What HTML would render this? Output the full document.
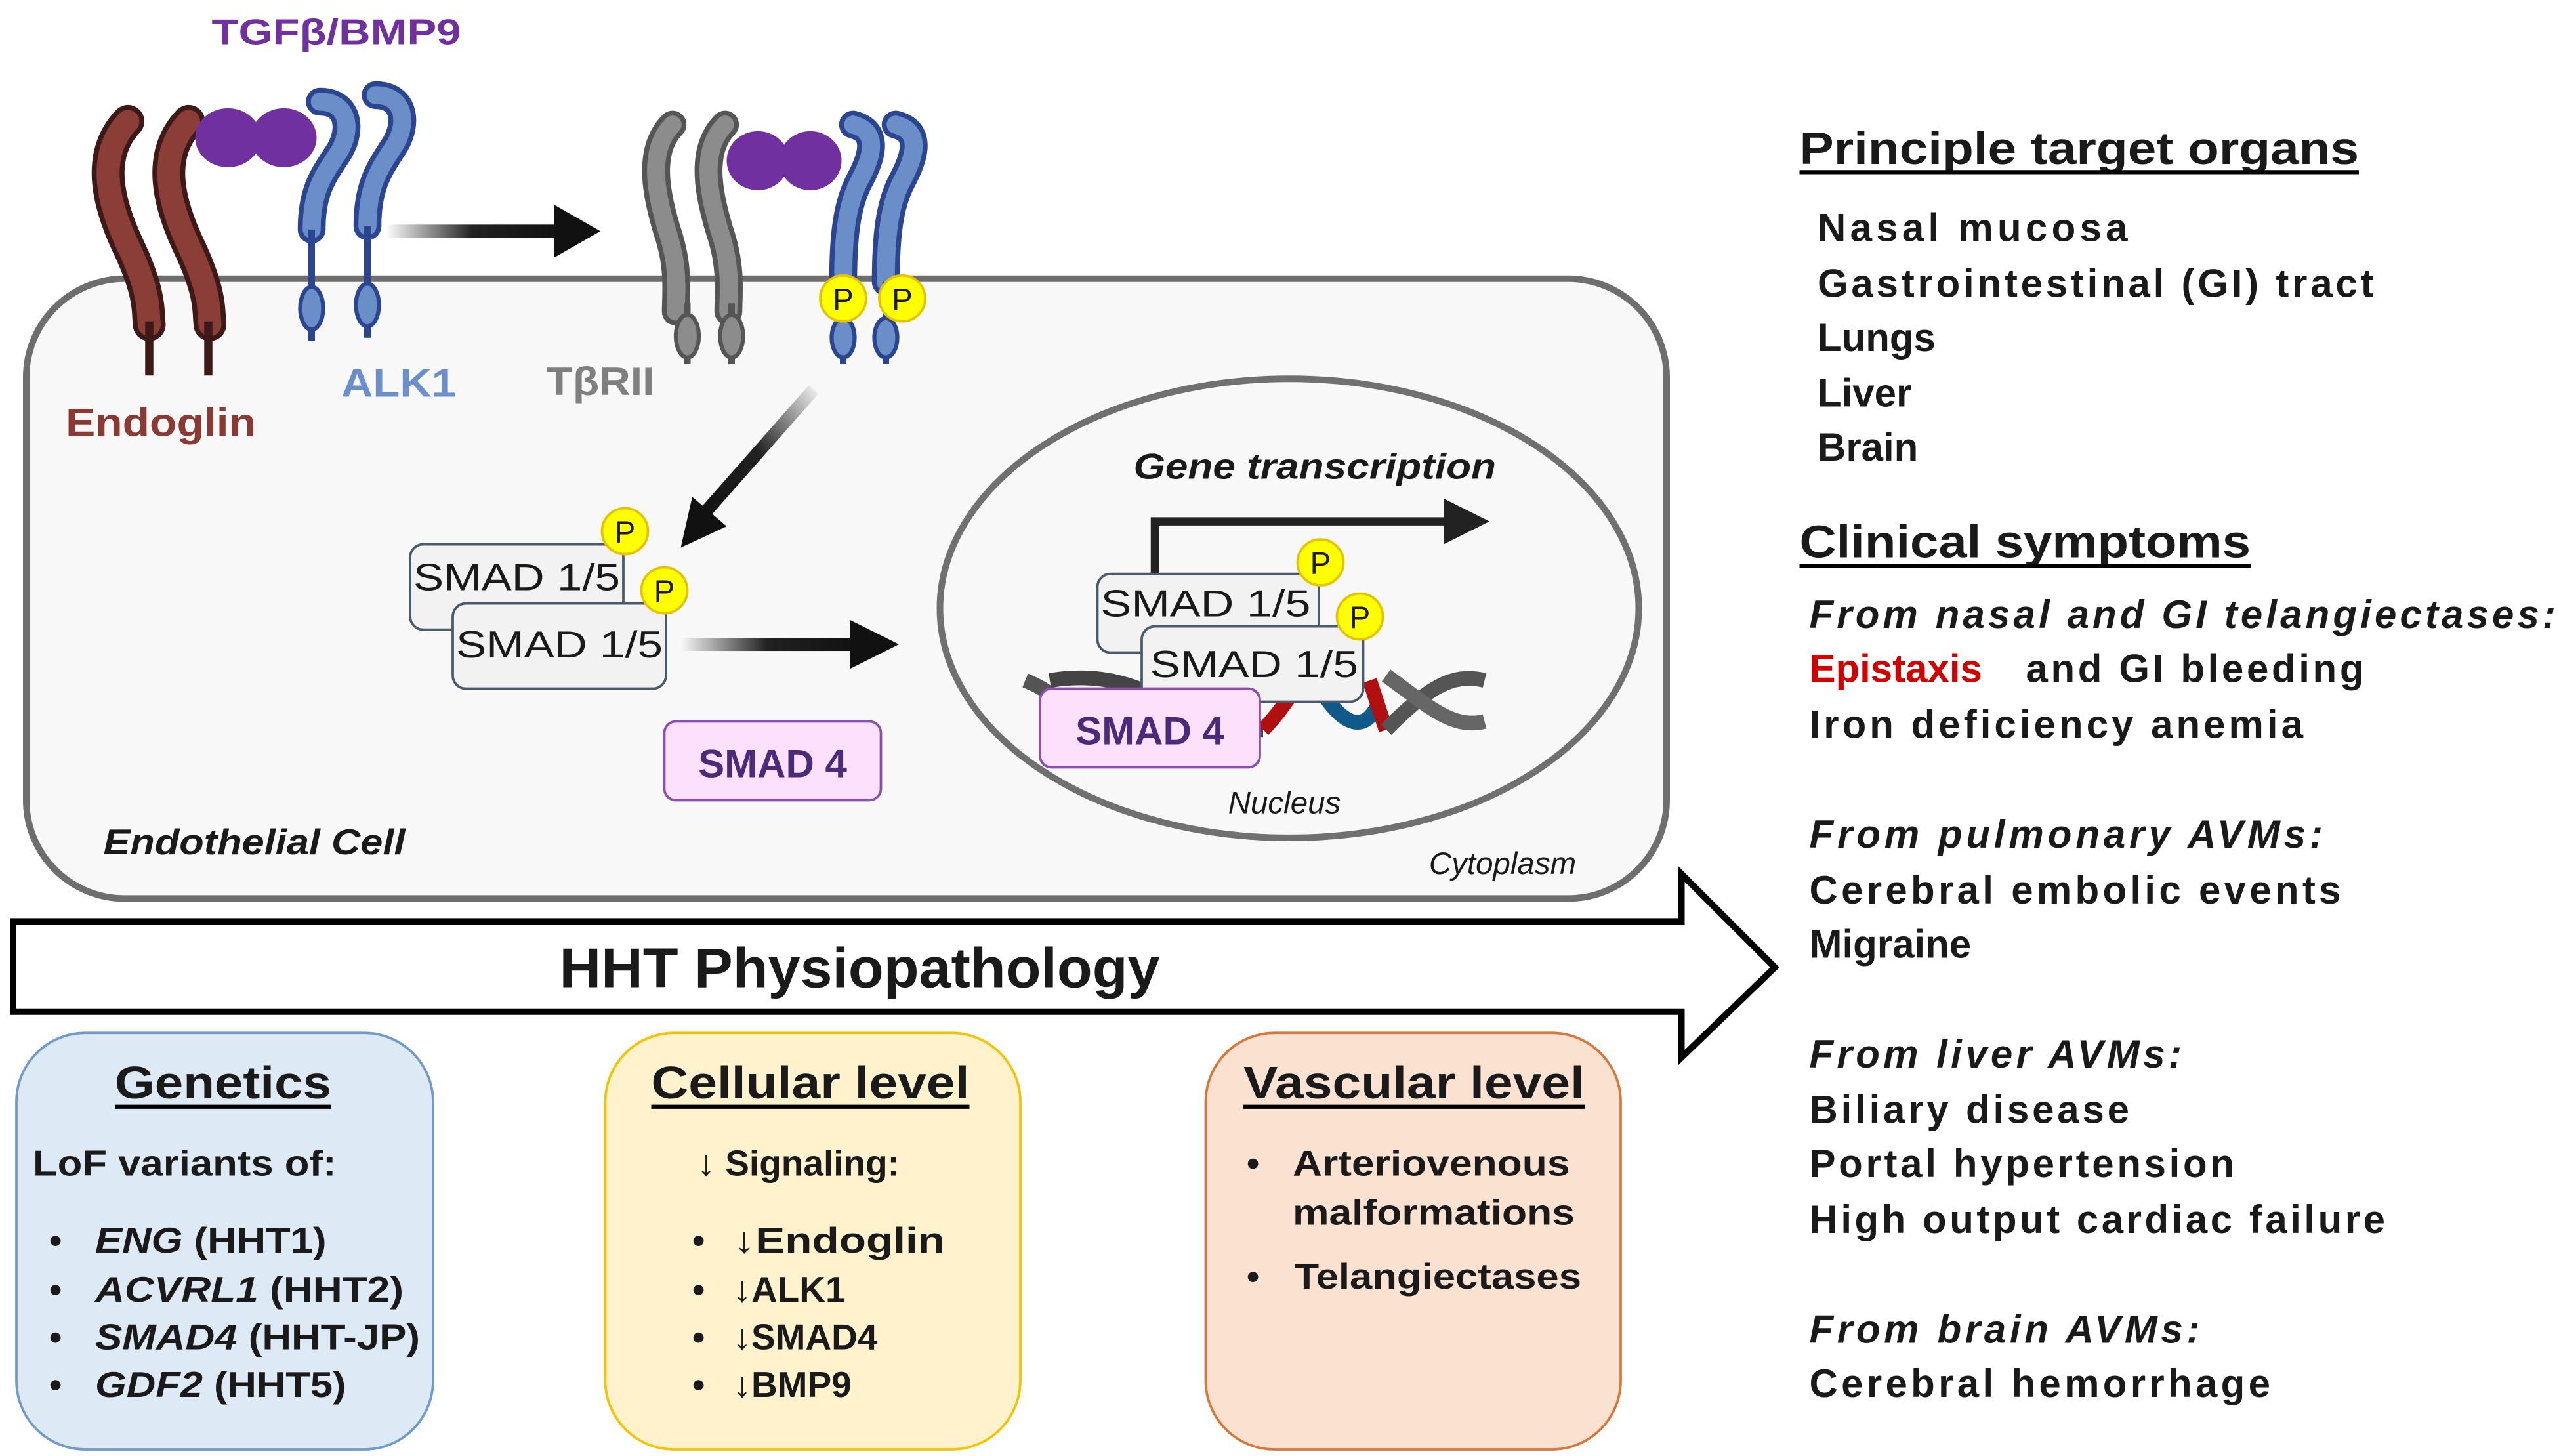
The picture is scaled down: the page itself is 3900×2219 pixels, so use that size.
<!DOCTYPE html>
<html><head><meta charset="utf-8"><style>
html,body{margin:0;padding:0;background:#fff;}
svg{display:block;}
text{font-family:"Liberation Sans",Arial,sans-serif;fill:#1a1a1a;}
</style></head><body>
<svg width="3900" height="2219" viewBox="0 0 1560 888" preserveAspectRatio="none" xmlns="http://www.w3.org/2000/svg">
<defs>
<linearGradient id="ga" x1="0" x2="1" y1="0" y2="0"><stop offset="0" stop-color="#222" stop-opacity="0"/><stop offset="0.5" stop-color="#222"/><stop offset="1" stop-color="#111"/></linearGradient>
<linearGradient id="gd" x1="1" x2="0" y1="0" y2="1"><stop offset="0" stop-color="#222" stop-opacity="0"/><stop offset="0.5" stop-color="#222"/><stop offset="1" stop-color="#111"/></linearGradient>
</defs>

<rect x="16" y="170" width="1000" height="378" rx="60" fill="#f8f8f8" stroke="#6e6e6e" stroke-width="4"/>

<g stroke-linecap="round" fill="none">
 <path d="M78,74 C58,95 66,125 79,152 C92,180 90,190 91,198" stroke="#3d1a17" stroke-width="20"/>
 <path d="M78,74 C58,95 66,125 79,152 C92,180 90,190 91,198" stroke="#8b3e38" stroke-width="14"/>
 <path d="M115,74 C95,95 103,125 116,152 C129,180 127,190 128,198" stroke="#3d1a17" stroke-width="20"/>
 <path d="M115,74 C95,95 103,125 116,152 C129,180 127,190 128,198" stroke="#8b3e38" stroke-width="14"/>
</g>
<line x1="91" y1="196" x2="91" y2="229" stroke="#3d1a17" stroke-width="5"/>
<line x1="127" y1="196" x2="127" y2="229" stroke="#3d1a17" stroke-width="5"/>
<ellipse cx="139" cy="84" rx="20" ry="18" fill="#7030a0"/>
<ellipse cx="173" cy="84" rx="20" ry="18" fill="#7030a0"/>
<g stroke-linecap="round" fill="none">
 <path d="M195,62 C212,62 215,78 207,92 C198,106 190,115 190,140" stroke="#2b4590" stroke-width="17"/>
 <path d="M195,62 C212,62 215,78 207,92 C198,106 190,115 190,140" stroke="#6a8fc8" stroke-width="11"/>
 <path d="M229,58 C246,58 249,74 241,88 C232,102 224,112 224,138" stroke="#2b4590" stroke-width="17"/>
 <path d="M229,58 C246,58 249,74 241,88 C232,102 224,112 224,138" stroke="#6a8fc8" stroke-width="11"/>
</g>
<line x1="190" y1="140" x2="190" y2="208" stroke="#2b4590" stroke-width="4"/>
<line x1="224" y1="138" x2="224" y2="206" stroke="#2b4590" stroke-width="4"/>
<ellipse cx="190" cy="188" rx="7" ry="13" fill="#6a8fc8" stroke="#2b4590" stroke-width="2.5"/>
<ellipse cx="224" cy="186" rx="7" ry="13" fill="#6a8fc8" stroke="#2b4590" stroke-width="2.5"/>

<rect x="235" y="137" width="106" height="8" fill="url(#ga)"/>
<polygon points="338,125 366,141 338,157" fill="#111"/>

<g stroke-linecap="round" fill="none">
 <path d="M410,76 C394,92 400,120 408,145 C414,165 412,180 412,190" stroke="#555" stroke-width="17"/>
 <path d="M410,76 C394,92 400,120 408,145 C414,165 412,180 412,190" stroke="#8c8c8c" stroke-width="11"/>
 <path d="M442,76 C426,92 432,120 440,145 C446,165 444,180 444,190" stroke="#555" stroke-width="17"/>
 <path d="M442,76 C426,92 432,120 440,145 C446,165 444,180 444,190" stroke="#8c8c8c" stroke-width="11"/>
 <path d="M520,76 C536,80 532,95 524,110 C516,125 514,145 514,172" stroke="#2b4590" stroke-width="17"/>
 <path d="M520,76 C536,80 532,95 524,110 C516,125 514,145 514,172" stroke="#6a8fc8" stroke-width="11"/>
 <path d="M546,76 C562,80 558,95 550,110 C542,125 540,145 540,172" stroke="#2b4590" stroke-width="17"/>
 <path d="M546,76 C562,80 558,95 550,110 C542,125 540,145 540,172" stroke="#6a8fc8" stroke-width="11"/>
</g>
<line x1="419" y1="185" x2="419" y2="222" stroke="#555" stroke-width="4"/>
<line x1="446" y1="185" x2="446" y2="222" stroke="#555" stroke-width="4"/>
<ellipse cx="419" cy="205" rx="7" ry="13" fill="#8c8c8c" stroke="#555" stroke-width="2.5"/>
<ellipse cx="446" cy="205" rx="7" ry="13" fill="#8c8c8c" stroke="#555" stroke-width="2.5"/>
<line x1="514" y1="172" x2="514" y2="222" stroke="#2b4590" stroke-width="4"/>
<line x1="540" y1="172" x2="540" y2="222" stroke="#2b4590" stroke-width="4"/>
<ellipse cx="514" cy="206" rx="7" ry="12" fill="#6a8fc8" stroke="#2b4590" stroke-width="2.5"/>
<ellipse cx="540" cy="206" rx="7" ry="12" fill="#6a8fc8" stroke="#2b4590" stroke-width="2.5"/>
<ellipse cx="462" cy="98" rx="19" ry="18" fill="#7030a0"/>
<ellipse cx="494" cy="98" rx="19" ry="18" fill="#7030a0"/>
<g font-size="19">
<circle cx="514" cy="182" r="14" fill="#ffff00" stroke="#e6c200" stroke-width="1.5"/><text x="514" y="189" text-anchor="middle">P</text>
<circle cx="550" cy="182" r="14" fill="#ffff00" stroke="#e6c200" stroke-width="1.5"/><text x="550" y="189" text-anchor="middle">P</text>
</g>

<text x="129" y="27" font-size="22" font-weight="bold" textLength="152" lengthAdjust="spacingAndGlyphs" style="fill:#7030a0">TGFβ/BMP9</text>
<text x="40" y="266" font-size="24" font-weight="bold" textLength="116" lengthAdjust="spacingAndGlyphs" style="fill:#8b3a33">Endoglin</text>
<text x="208" y="242" font-size="24" font-weight="bold" textLength="70" lengthAdjust="spacingAndGlyphs" style="fill:#6b8fcc">ALK1</text>
<text x="333" y="241" font-size="24" font-weight="bold" textLength="66" lengthAdjust="spacingAndGlyphs" style="fill:#7f7f7f">TβRII</text>

<polygon points="493,235 499,240 432,316 426,311" fill="url(#gd)"/>
<polygon points="415,334 422,303 443,321" fill="#111"/>

<rect x="250" y="332" width="130" height="52" rx="8" fill="#f2f2f2" stroke="#4a5a6a" stroke-width="1.5"/>
<text x="252" y="360" font-size="23" textLength="126" lengthAdjust="spacingAndGlyphs">SMAD 1/5</text>
<rect x="276" y="368" width="130" height="52" rx="8" fill="#f2f2f2" stroke="#4a5a6a" stroke-width="1.5"/>
<text x="278" y="401" font-size="23" textLength="126" lengthAdjust="spacingAndGlyphs">SMAD 1/5</text>
<g font-size="19">
<circle cx="381" cy="324" r="14" fill="#ffff00" stroke="#e6c200" stroke-width="1.5"/><text x="381" y="331" text-anchor="middle">P</text>
<circle cx="405" cy="360" r="14" fill="#ffff00" stroke="#e6c200" stroke-width="1.5"/><text x="405" y="367" text-anchor="middle">P</text>
</g>
<rect x="415" y="389" width="105" height="8" fill="url(#ga)"/>
<polygon points="518,378 548,393 518,408" fill="#111"/>
<rect x="405" y="440" width="132" height="48" rx="7" fill="#fde0fb" stroke="#8a4fb5" stroke-width="1.5"/>
<text x="471" y="474" font-size="24" font-weight="bold" text-anchor="middle" style="fill:#4b2a7a">SMAD 4</text>

<ellipse cx="786" cy="371" rx="213" ry="140" fill="#f8f8f8" stroke="#707070" stroke-width="4"/>
<text x="691" y="292" font-size="22" font-weight="bold" font-style="italic" textLength="221" lengthAdjust="spacingAndGlyphs">Gene transcription</text>
<path d="M704,352 L704,318 L882,318" stroke="#222" stroke-width="5" fill="none"/>
<polygon points="880,304 908,318 880,332" fill="#222"/>
<g fill="none" stroke-width="9">
 <path d="M625,415 C650,425 655,440 640,445" stroke="#555"/>
 <path d="M640,415 C700,405 720,445 770,445" stroke="#444"/>
 <path d="M770,445 C785,430 790,415 800,412" stroke="#b01010"/>
 <path d="M800,412 C815,440 830,450 840,430" stroke="#0f5a8a"/>
 <path d="M835,415 C840,430 843,440 845,445" stroke="#b01010"/>
 <path d="M845,445 C870,420 885,410 905,415" stroke="#555"/>
 <path d="M845,412 C870,430 885,445 905,440" stroke="#666"/>
</g>
<rect x="669" y="350" width="135" height="48" rx="8" fill="#f2f2f2" stroke="#4a5a6a" stroke-width="1.5"/>
<text x="671" y="376" font-size="23" textLength="128" lengthAdjust="spacingAndGlyphs">SMAD 1/5</text>
<rect x="696" y="382" width="135" height="46" rx="8" fill="#f2f2f2" stroke="#4a5a6a" stroke-width="1.5"/>
<text x="701" y="413" font-size="23" textLength="127" lengthAdjust="spacingAndGlyphs">SMAD 1/5</text>
<g font-size="19">
<circle cx="805" cy="343" r="14" fill="#ffff00" stroke="#e6c200" stroke-width="1.5"/><text x="805" y="350" text-anchor="middle">P</text>
<circle cx="829" cy="376" r="14" fill="#ffff00" stroke="#e6c200" stroke-width="1.5"/><text x="829" y="383" text-anchor="middle">P</text>
</g>
<rect x="634" y="420" width="134" height="48" rx="7" fill="#fde0fb" stroke="#8a4fb5" stroke-width="1.5"/>
<text x="701" y="454" font-size="24" font-weight="bold" text-anchor="middle" style="fill:#4b2a7a">SMAD 4</text>
<text x="783" y="496" font-size="19" font-style="italic" text-anchor="middle">Nucleus</text>
<text x="916" y="533" font-size="19" font-style="italic" text-anchor="middle">Cytoplasm</text>
<text x="63" y="521" font-size="22" font-weight="bold" font-style="italic" textLength="184" lengthAdjust="spacingAndGlyphs">Endothelial Cell</text>

<polygon points="8,562 1025,562 1025,533 1082,590 1025,645 1025,617 8,617" fill="#fff" stroke="#000" stroke-width="4"/>
<text x="341" y="602" font-size="34" font-weight="bold" textLength="366" lengthAdjust="spacingAndGlyphs">HHT Physiopathology</text>

<rect x="10" y="630" width="254" height="254" rx="42" fill="#dde9f5" stroke="#6f9bcc" stroke-width="1.5"/>
<rect x="369" y="630" width="253" height="254" rx="42" fill="#fff2cc" stroke="#f5c400" stroke-width="1.5"/>
<rect x="735" y="630" width="253" height="254" rx="42" fill="#fbe1d0" stroke="#d9773a" stroke-width="1.5"/>
<g font-size="28" font-weight="bold">
<text x="70" y="670" textLength="132" lengthAdjust="spacingAndGlyphs">Genetics</text>
<text x="397" y="670" textLength="194" lengthAdjust="spacingAndGlyphs">Cellular level</text>
<text x="758" y="670" textLength="208" lengthAdjust="spacingAndGlyphs">Vascular level</text>
</g>
<line x1="70" y1="675" x2="202" y2="675" stroke="#000" stroke-width="2.5"/>
<line x1="397" y1="675" x2="591" y2="675" stroke="#000" stroke-width="2.5"/>
<line x1="758" y1="675" x2="966" y2="675" stroke="#000" stroke-width="2.5"/>
<g font-size="22" font-weight="bold">
<text x="20" y="717" textLength="185" lengthAdjust="spacingAndGlyphs">LoF variants of:</text>
<text x="30" y="764">•</text><text x="58" y="764" textLength="141" lengthAdjust="spacingAndGlyphs"><tspan font-style="italic">ENG</tspan> (HHT1)</text>
<text x="30" y="794">•</text><text x="58" y="794" textLength="188" lengthAdjust="spacingAndGlyphs"><tspan font-style="italic">ACVRL1</tspan> (HHT2)</text>
<text x="30" y="823">•</text><text x="58" y="823" textLength="198" lengthAdjust="spacingAndGlyphs"><tspan font-style="italic">SMAD4</tspan> (HHT-JP)</text>
<text x="30" y="852">•</text><text x="58" y="852" textLength="153" lengthAdjust="spacingAndGlyphs"><tspan font-style="italic">GDF2</tspan> (HHT5)</text>
<text x="425" y="717"><tspan font-weight="normal">↓</tspan> Signaling:</text>
<text x="422" y="764">•</text><text x="447" y="764" textLength="129" lengthAdjust="spacingAndGlyphs"><tspan font-weight="normal">↓</tspan>Endoglin</text>
<text x="422" y="794">•</text><text x="447" y="794"><tspan font-weight="normal">↓</tspan>ALK1</text>
<text x="422" y="823">•</text><text x="447" y="823"><tspan font-weight="normal">↓</tspan>SMAD4</text>
<text x="422" y="852">•</text><text x="447" y="852"><tspan font-weight="normal">↓</tspan>BMP9</text>
<text x="760" y="717">•</text><text x="788" y="717" textLength="169" lengthAdjust="spacingAndGlyphs">Arteriovenous</text>
<text x="788" y="747" textLength="172" lengthAdjust="spacingAndGlyphs">malformations</text>
<text x="760" y="786">•</text><text x="789" y="786" textLength="175" lengthAdjust="spacingAndGlyphs">Telangiectases</text>
</g>

<g font-size="24" font-weight="bold">
<text x="1097" y="100" font-size="28" textLength="341" lengthAdjust="spacingAndGlyphs">Principle target organs</text>
<line x1="1097" y1="105" x2="1438" y2="105" stroke="#000" stroke-width="2.5"/>
<text x="1108" y="147" textLength="189" lengthAdjust="spacing">Nasal mucosa</text>
<text x="1108" y="181" textLength="339" lengthAdjust="spacing">Gastrointestinal (GI) tract</text>
<text x="1108" y="214">Lungs</text>
<text x="1108" y="248">Liver</text>
<text x="1108" y="281">Brain</text>
<text x="1097" y="340" font-size="28" textLength="275" lengthAdjust="spacingAndGlyphs">Clinical symptoms</text>
<line x1="1097" y1="345" x2="1372" y2="345" stroke="#000" stroke-width="2.5"/>
<text x="1103" y="383" font-style="italic" textLength="455" lengthAdjust="spacing">From nasal and GI telangiectases:</text>
<text x="1103" y="416" style="fill:#d40000">Epistaxis</text>
<text x="1235" y="416" textLength="206" lengthAdjust="spacing">and GI bleeding</text>
<text x="1103" y="450" textLength="301" lengthAdjust="spacing">Iron deficiency anemia</text>
<text x="1103" y="517" font-style="italic" textLength="313" lengthAdjust="spacing">From pulmonary AVMs:</text>
<text x="1103" y="551" textLength="324" lengthAdjust="spacing">Cerebral embolic events</text>
<text x="1103" y="584">Migraine</text>
<text x="1103" y="651" font-style="italic" textLength="227" lengthAdjust="spacing">From liver AVMs:</text>
<text x="1103" y="685" textLength="195" lengthAdjust="spacing">Biliary disease</text>
<text x="1103" y="718" textLength="259" lengthAdjust="spacing">Portal hypertension</text>
<text x="1103" y="752" textLength="351" lengthAdjust="spacing">High output cardiac failure</text>
<text x="1103" y="819" font-style="italic" textLength="238" lengthAdjust="spacing">From brain AVMs:</text>
<text x="1103" y="852" textLength="281" lengthAdjust="spacing">Cerebral hemorrhage</text>
</g>
</svg>
</body></html>
